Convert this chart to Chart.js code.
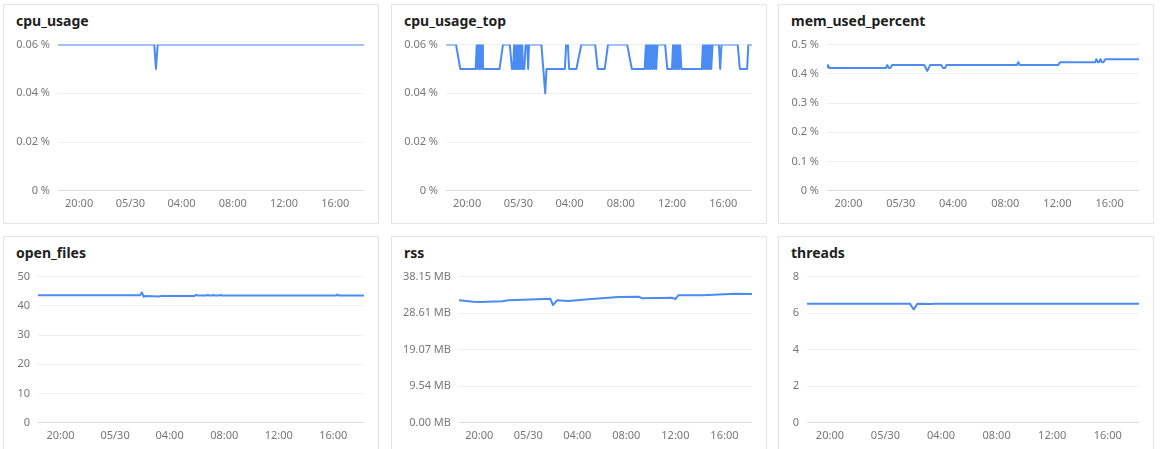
<!DOCTYPE html>
<html>
<head>
<meta charset="utf-8">
<script src="https://cdn.jsdelivr.net/npm/chart.js@4.4.1/dist/chart.umd.min.js"></script>
<style>
  html, body { margin: 0; padding: 0; background: #fff; overflow: hidden; }
  body { width: 1160px; height: 449px; position: relative; font-family: "Noto Sans", sans-serif; }
  .panel { position: absolute; width: 374px; height: 218px; border: 1px solid #e3e3e8; }
  .panel h3 { position: absolute; left: 12px; top: 6px; margin: 0; font-size: 14px; line-height: 20px; font-weight: bold; color: #1f1f1f; }
  .panel .box { position: absolute; left: 0; right: 14px; top: 25px; height: 186px; }
</style>
</head>
<body>
<div class="panel" style="left:3px;top:4px"><h3>cpu_usage</h3><div class="box"><canvas id="c0"></canvas></div></div>
<div class="panel" style="left:391px;top:4px"><h3>cpu_usage_top</h3><div class="box"><canvas id="c1"></canvas></div></div>
<div class="panel" style="left:778px;top:4px"><h3>mem_used_percent</h3><div class="box"><canvas id="c2"></canvas></div></div>
<div class="panel" style="left:3px;top:236px"><h3>open_files</h3><div class="box"><canvas id="c3"></canvas></div></div>
<div class="panel" style="left:391px;top:236px"><h3>rss</h3><div class="box"><canvas id="c4"></canvas></div></div>
<div class="panel" style="left:778px;top:236px"><h3>threads</h3><div class="box"><canvas id="c5"></canvas></div></div>
<script>
// x values are minutes since 05/29 00:00
const xStart = 1101
const xEnd = 2535
const xTickMinutes = [1200, 1440, 1680, 1920, 2160, 2400]
const xTickLabels = ['20:00', '05/30', '04:00', '08:00', '12:00', '16:00']

const cpuTicks = [0, 0.02, 0.04, 0.06]
const memTicks = [0, 0.1, 0.2, 0.3, 0.4, 0.5]
const filesTicks = [0, 10, 20, 30, 40, 50]
const rssTicks = [0, 9.54, 19.07, 28.61, 38.15]
const threadTicks = [0, 2, 4, 6, 8]

// [minute, value]
const cpuUsage = [[1101, 0.06], [1552, 0.06], [1560, 0.05], [1568, 0.06], [2535, 0.06]]

const cpuUsageTop = [
  [1101, 0.06], [1148, 0.06], [1168, 0.05], [1240, 0.05],
  [1245, 0.06], [1249, 0.05], [1253, 0.06], [1257, 0.05], [1261, 0.06], [1265, 0.05], [1270, 0.06], [1274, 0.05],
  [1352, 0.05], [1368, 0.06], [1400, 0.06], [1410, 0.05], [1416, 0.05], [1420, 0.06], [1424, 0.05],
  [1430, 0.05], [1434, 0.06], [1438, 0.05], [1442, 0.06], [1446, 0.05], [1450, 0.06], [1454, 0.05],
  [1458, 0.06], [1462, 0.05], [1468, 0.05], [1474, 0.06], [1482, 0.06], [1486, 0.05], [1490, 0.06],
  [1548, 0.06], [1566, 0.04], [1572, 0.05], [1658, 0.05], [1664, 0.06], [1672, 0.06], [1678, 0.05],
  [1712, 0.05], [1735, 0.06], [1800, 0.06], [1812, 0.05], [1845, 0.05], [1860, 0.06], [1950, 0.06],
  [1972, 0.05], [2032, 0.05], [2038, 0.06], [2042, 0.05], [2046, 0.06], [2050, 0.05], [2055, 0.06],
  [2059, 0.05], [2064, 0.06], [2068, 0.05], [2073, 0.06], [2077, 0.05], [2082, 0.06], [2086, 0.05],
  [2092, 0.06], [2128, 0.06], [2138, 0.05], [2160, 0.05], [2165, 0.06], [2169, 0.05], [2173, 0.06],
  [2177, 0.05], [2182, 0.06], [2186, 0.05], [2190, 0.06], [2194, 0.05], [2198, 0.06], [2204, 0.05],
  [2300, 0.05], [2305, 0.06], [2309, 0.05], [2313, 0.06], [2317, 0.05], [2322, 0.06], [2326, 0.05],
  [2331, 0.06], [2335, 0.05], [2340, 0.06], [2344, 0.05], [2350, 0.06], [2380, 0.06], [2386, 0.05],
  [2392, 0.06], [2468, 0.06], [2478, 0.05], [2512, 0.05], [2518, 0.06], [2535, 0.06]
]

const memUsedPercent = [
  [1101, 0.42], [1106, 0.43], [1111, 0.42], [1372, 0.42], [1378, 0.43], [1386, 0.42], [1392, 0.42],
  [1400, 0.43], [1548, 0.43], [1562, 0.41], [1575, 0.43], [1626, 0.43], [1634, 0.42], [1644, 0.42],
  [1650, 0.43], [1974, 0.43], [1980, 0.44], [1988, 0.43], [2164, 0.43], [2172, 0.44], [2334, 0.44],
  [2339, 0.45], [2346, 0.44], [2352, 0.44], [2358, 0.45], [2364, 0.44], [2372, 0.44], [2380, 0.45],
  [2535, 0.45]
]

const openFiles = [
  [1101, 43.6], [1550, 43.6], [1558, 44.6], [1566, 43.1], [1574, 43.4], [1634, 43.2], [1644, 43.4],
  [1790, 43.4], [1797, 43.8], [1804, 43.5], [1842, 43.5], [1848, 43.8], [1854, 43.5], [1868, 43.5],
  [1874, 43.7], [1880, 43.5], [1898, 43.5], [1904, 43.8], [1910, 43.5], [2412, 43.5], [2418, 43.9],
  [2424, 43.5], [2535, 43.5]
]

const rssMB = [
  [1101, 31.96], [1171, 31.6], [1205, 31.55], [1313, 31.7], [1342, 32.0], [1450, 32.2], [1548, 32.4],
  [1561, 30.7], [1582, 32.0], [1636, 31.8], [1719, 32.2], [1881, 32.8], [1979, 32.9], [1998, 32.5],
  [2145, 32.6], [2160, 32.3], [2175, 33.3], [2292, 33.3], [2454, 33.7], [2535, 33.6]
]

const threads = [
  [1101, 6.52], [1545, 6.52], [1562, 6.2], [1578, 6.52], [1640, 6.5], [1650, 6.52], [2535, 6.52]
]

const labelFont = { family: 'Noto Sans', size: 11 }

function makeChart(id, points, yTicks, fmt, axisWidth) {
  new Chart(document.getElementById(id), {
    type: 'line',
    data: {
      datasets: [{
        data: points.map(p => ({ x: p[0], y: p[1] })),
        borderColor: '#4b8bf4',
        borderWidth: 2,
        borderJoinStyle: 'round',
        pointRadius: 0,
        tension: 0,
        fill: false
      }]
    },
    options: {
      responsive: true,
      maintainAspectRatio: false,
      animation: false,
      layout: { padding: 0 },
      plugins: { legend: { display: false }, tooltip: { enabled: false } },
      scales: {
        x: {
          type: 'linear',
          min: xStart,
          max: xEnd,
          afterBuildTicks: s => { s.ticks = xTickMinutes.map(v => ({ value: v })) },
          ticks: {
            callback: v => xTickLabels[xTickMinutes.indexOf(v)],
            color: '#777',
            font: labelFont,
            padding: 6,
            maxRotation: 0,
            autoSkip: false
          },
          grid: { display: false, drawTicks: false },
          border: { color: '#dcdcdc' }
        },
        y: {
          min: 0,
          max: yTicks[yTicks.length - 1],
          afterBuildTicks: s => { s.ticks = yTicks.map(v => ({ value: v })) },
          afterFit: s => { s.width = axisWidth },
          ticks: { callback: fmt, color: '#777', font: labelFont, padding: 8 },
          grid: { color: '#f0f0f0', drawTicks: false },
          border: { display: false }
        }
      }
    }
  })
}

const pct = v => v + ' %'
const mb = v => v.toFixed(2) + ' MB'
const plain = v => String(v)

makeChart('c0', cpuUsage, cpuTicks, pct, 54)
makeChart('c1', cpuUsageTop, cpuTicks, pct, 54)
makeChart('c2', memUsedPercent, memTicks, pct, 48)
makeChart('c3', openFiles, filesTicks, plain, 34)
makeChart('c4', rssMB, rssTicks, mb, 67)
makeChart('c5', threads, threadTicks, plain, 28)
</script>
</body>
</html>
